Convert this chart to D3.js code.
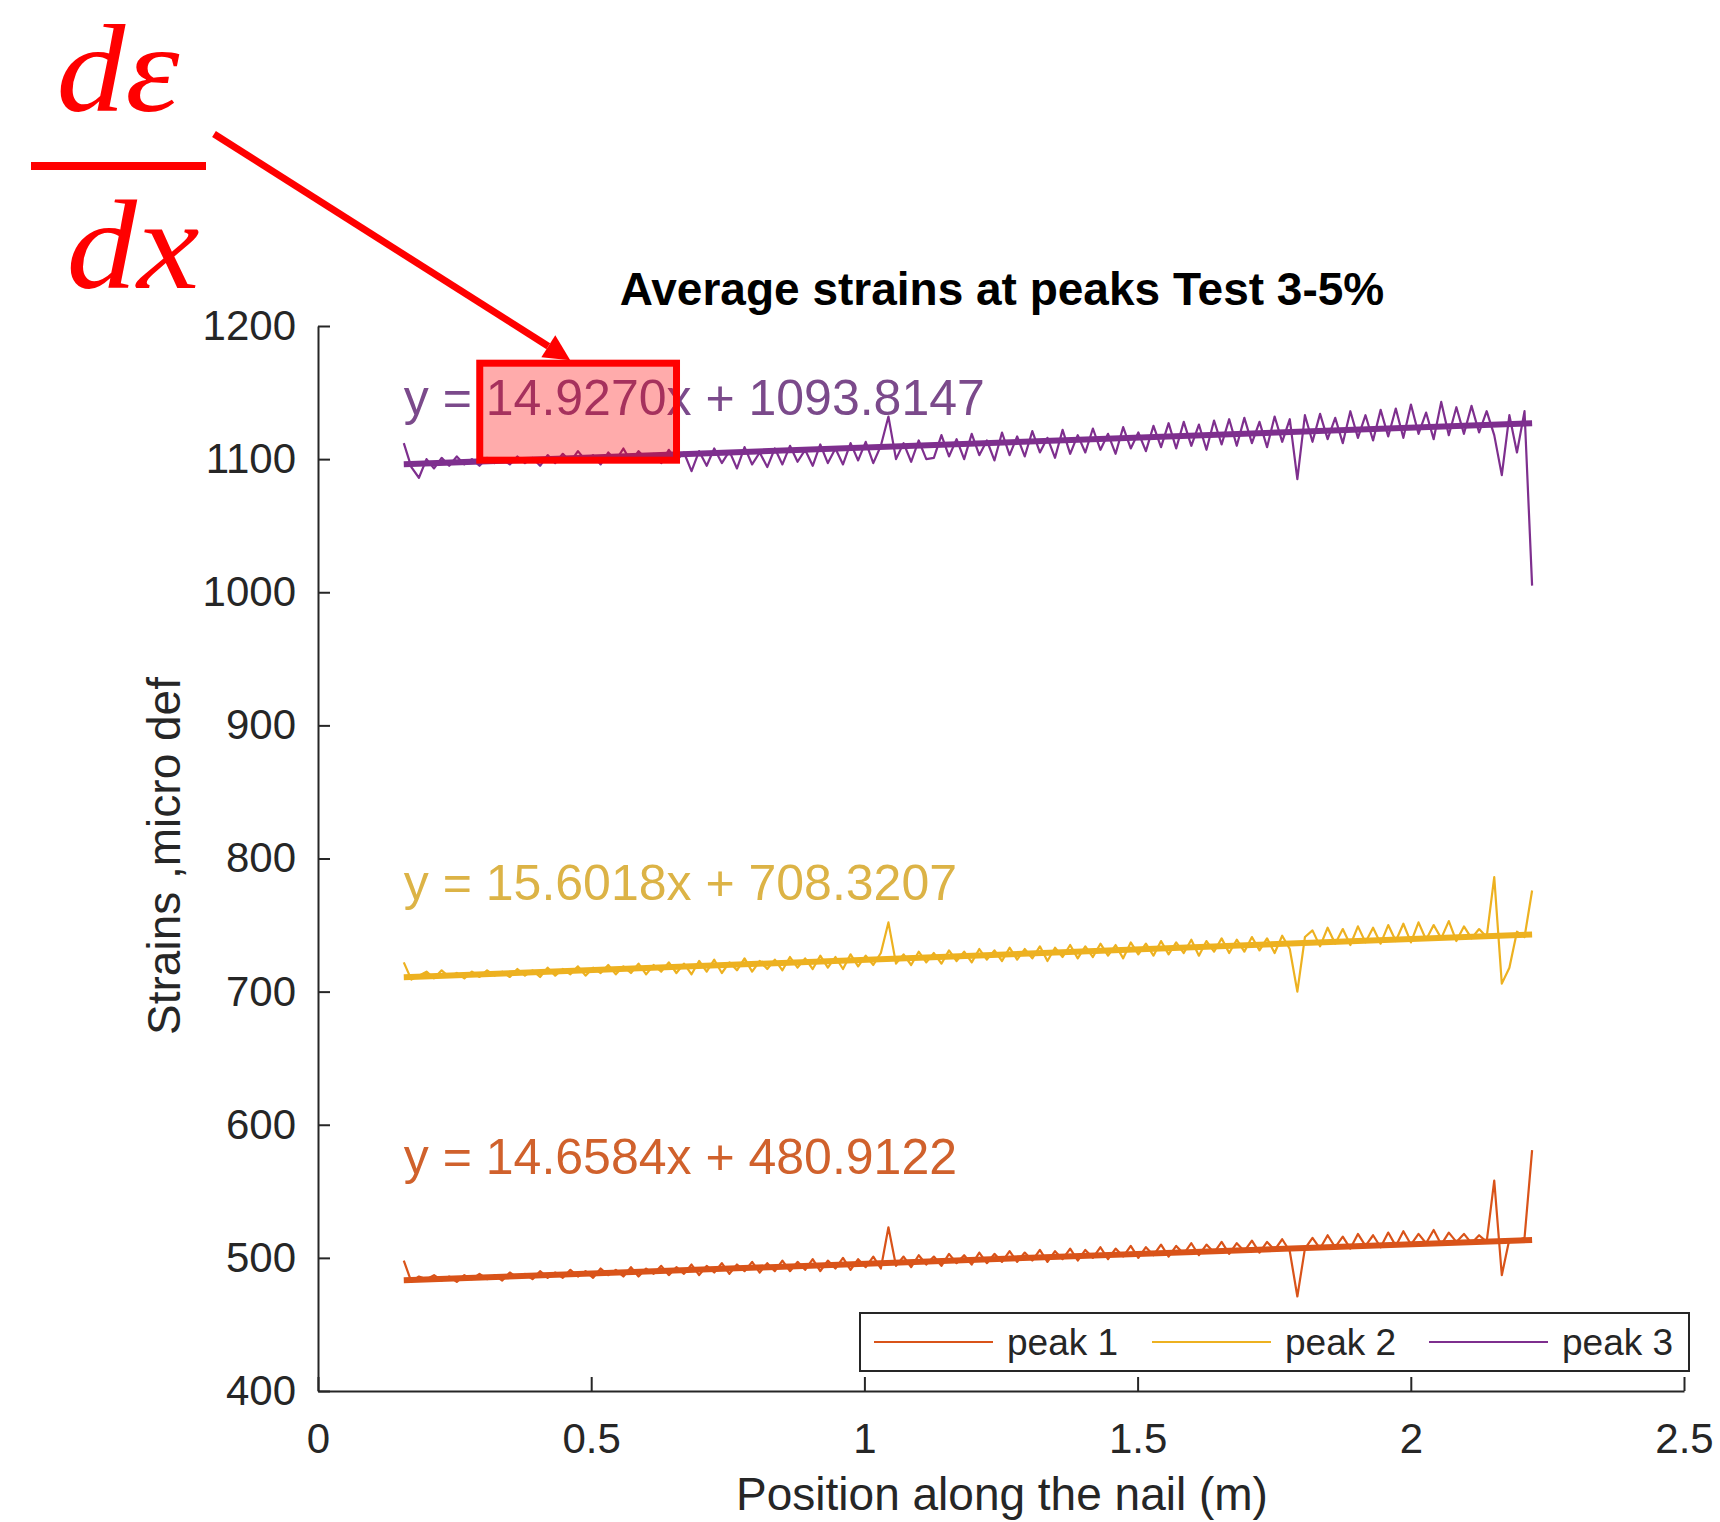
<!DOCTYPE html>
<html>
<head>
<meta charset="utf-8">
<script src="https://d3js.org/d3.v7.min.js"></script>
<style>
  body { margin: 0; background: #fff; }
  svg text { font-family: "Liberation Sans", Arial, Helvetica, sans-serif; }
</style>
</head>
<body>
<div id="chart"></div>
<script>
// position of the first and last gauge along the nail (m)
var xStart = 0.157, xEnd = 2.222;

var seriesNames = ["peak 1", "peak 2", "peak 3"];
var seriesColors = ["#D95319", "#EDB120", "#7E2F8E"];
var labelColors = ["#d0612c", "#dcb346", "#7b4a8b"];

// linear fits printed on the chart
var fitSlopes = [14.6584, 15.6018, 14.9270];
var fitIntercepts = [480.9122, 708.3207, 1093.8147];
var fitLabels = ["y = 14.6584x + 480.9122", "y = 15.6018x + 708.3207", "y = 14.9270x + 1093.8147"];
var fitLabelValues = [563, 769, 1133]; // baseline of each label, micro def

// average strains (micro def)
var peak1 = [
  498, 482, 486, 484, 487, 483, 486, 482, 487, 484,
  488, 484, 487, 483, 489, 485, 488, 484, 490, 485,
  489, 485, 491, 486, 490, 485, 492, 487, 491, 486,
  493, 486, 492, 488, 494, 487, 493, 488, 495, 487,
  494, 489, 496, 488, 495, 490, 497, 489, 496, 490,
  498, 490, 497, 491, 499, 490, 498, 492, 500, 491,
  499, 493, 501, 492, 523, 494, 501, 493, 502, 495,
  501, 494, 503, 496, 502, 495, 504, 496, 503, 497,
  505, 497, 504, 498, 506, 497, 505, 499, 507, 498,
  506, 500, 508, 499, 507, 501, 509, 500, 508, 502,
  510, 501, 509, 503, 511, 502, 510, 504, 512, 503,
  511, 505, 513, 504, 512, 506, 514, 505, 471, 507,
  515, 507, 517, 508, 516, 507, 518, 509, 517, 508,
  519, 509, 520, 510, 518, 511, 521, 510, 519, 512,
  518, 511, 517, 512, 558, 487, 514, 513, 515, 581
];
var peak2 = [
  722, 709, 712, 715, 710, 716, 711, 714, 710, 715,
  711, 716, 712, 715, 711, 717, 712, 716, 711, 718,
  712, 717, 713, 719, 712, 718, 714, 720, 713, 719,
  714, 721, 713, 720, 715, 722, 714, 721, 713, 723,
  715, 724, 714, 722, 716, 725, 715, 723, 717, 724,
  716, 726, 718, 725, 717, 727, 718, 726, 717, 728,
  719, 727, 720, 729, 752, 721, 728, 720, 730, 722,
  729, 721, 731, 723, 730, 722, 732, 724, 731, 723,
  733, 724, 732, 725, 734, 723, 733, 726, 735, 725,
  734, 726, 736, 727, 735, 725, 737, 728, 736, 727,
  738, 728, 737, 729, 739, 727, 738, 730, 740, 729,
  739, 730, 741, 731, 740, 729, 742, 732, 700, 741,
  746, 734, 748, 736, 747, 735, 749, 737, 748, 736,
  750, 738, 751, 737, 752, 739, 750, 740, 753, 738,
  749, 740, 747, 741, 786, 706, 718, 745, 741, 776
];
var peak3 = [
  1112, 1094, 1086, 1100, 1093, 1101, 1095, 1102, 1096, 1100,
  1095, 1101, 1097, 1100, 1096, 1102, 1097, 1101, 1095, 1103,
  1097, 1104, 1098, 1106, 1099, 1103, 1096, 1105, 1099, 1108,
  1098, 1106, 1100, 1104, 1097, 1107, 1099, 1105, 1091, 1106,
  1095, 1108, 1097, 1106, 1093, 1109, 1096, 1105, 1094, 1108,
  1096, 1110, 1098, 1107, 1095, 1111, 1097, 1108, 1096, 1112,
  1099, 1113, 1097, 1110, 1132, 1100, 1112, 1098, 1114, 1100,
  1101, 1118, 1102, 1115, 1100, 1119, 1103, 1114, 1099, 1120,
  1103, 1117, 1102, 1121, 1105, 1116, 1101, 1122, 1104, 1118,
  1105, 1123, 1107, 1119, 1104, 1124, 1108, 1120, 1106, 1125,
  1109, 1127, 1108, 1128, 1110, 1126, 1107, 1129, 1111, 1130,
  1110, 1131, 1112, 1128, 1109, 1132, 1113, 1130, 1085, 1133,
  1113, 1134, 1115, 1131, 1112, 1136, 1116, 1133, 1114, 1137,
  1117, 1138, 1116, 1141, 1119, 1135, 1115, 1143, 1118, 1139,
  1119, 1140, 1120, 1136, 1118, 1088, 1133, 1105, 1136, 1005
];
var allSeries = [peak1, peak2, peak3];

var xTicks = [0, 0.5, 1, 1.5, 2, 2.5];
var yTicks = [400, 500, 600, 700, 800, 900, 1000, 1100, 1200];

var chartTitle = "Average strains at peaks Test 3-5%";
var xTitle = "Position along the nail (m)";
var yTitle = "Strains ,micro def";

// layout
var width = 1720, height = 1522;
var margin = { top: 326, right: 36, bottom: 131, left: 318 };
var plotW = width - margin.left - margin.right,
    plotH = height - margin.top - margin.bottom;

var svg = d3.select("#chart")
  .append("svg")
  .attr("width", width)
  .attr("height", height);

var g = svg.append("g")
  .attr("transform", "translate(" + margin.left + "," + margin.top + ")");

var x = d3.scaleLinear().domain([0, 2.5]).range([0, plotW]);
var y = d3.scaleLinear().domain([400, 1200]).range([plotH, 0]);

// axes (MATLAB style, ticks pointing in, box off)
var yAxis = g.append("g")
  .call(d3.axisLeft(y).tickValues(yTicks).tickFormat(d3.format("d"))
    .tickSizeInner(-12).tickSizeOuter(0).tickPadding(22));
var xAxis = g.append("g")
  .attr("transform", "translate(0," + plotH + ")")
  .call(d3.axisBottom(x).tickValues(xTicks).tickFormat(function (d) { return String(d); })
    .tickSizeInner(-14).tickSizeOuter(0).tickPadding(32));

[xAxis, yAxis].forEach(function (a) {
  a.select(".domain").attr("stroke", "#262626").attr("stroke-width", 2);
  a.selectAll(".tick line").attr("stroke", "#262626").attr("stroke-width", 2);
  a.selectAll(".tick text").attr("fill", "#262626").style("font-size", "42px");
});

// raw lines and fits
var line = d3.line()
  .x(function (d) { return x(d[0]); })
  .y(function (d) { return y(d[1]); });

allSeries.forEach(function (vals, k) {
  var n = vals.length;
  var pts = vals.map(function (v, i) {
    return [xStart + i * (xEnd - xStart) / (n - 1), v];
  });
  g.append("path")
    .datum(pts)
    .attr("fill", "none")
    .attr("stroke", seriesColors[k])
    .attr("stroke-width", 2.2)
    .attr("stroke-linejoin", "round")
    .attr("d", line);

  var fitPts = [xStart, xEnd].map(function (xv) {
    return [xv, fitIntercepts[k] + fitSlopes[k] * xv];
  });
  g.append("path")
    .datum(fitPts)
    .attr("fill", "none")
    .attr("stroke", seriesColors[k])
    .attr("stroke-width", 6)
    .attr("d", line);
});

// fit equations
var eqTexts = fitLabels.map(function (lbl, k) {
  return g.append("text")
    .attr("x", x(xStart))
    .attr("y", y(fitLabelValues[k]))
    .attr("fill", labelColors[k])
    .style("font-size", "50px")
    .text(lbl);
});

// title and axis labels
svg.append("text")
  .attr("x", 1002)
  .attr("y", 305)
  .attr("text-anchor", "middle")
  .attr("fill", "#000")
  .style("font-size", "46px")
  .style("font-weight", "bold")
  .text(chartTitle);

svg.append("text")
  .attr("x", 1002)
  .attr("y", 1510)
  .attr("text-anchor", "middle")
  .attr("fill", "#262626")
  .style("font-size", "46px")
  .text(xTitle);

svg.append("text")
  .attr("transform", "translate(180,856) rotate(-90)")
  .attr("text-anchor", "middle")
  .attr("fill", "#262626")
  .style("font-size", "46px")
  .text(yTitle);

// legend
var legend = svg.append("g").attr("transform", "translate(860,1313)");
legend.append("rect")
  .attr("width", 829).attr("height", 58)
  .attr("fill", "#fff")
  .attr("stroke", "#262626").attr("stroke-width", 2);
var legendX = [14, 292, 569];
seriesNames.forEach(function (name, k) {
  legend.append("line")
    .attr("x1", legendX[k]).attr("x2", legendX[k] + 119)
    .attr("y1", 29).attr("y2", 29)
    .attr("stroke", seriesColors[k]).attr("stroke-width", 2);
  legend.append("text")
    .attr("x", legendX[k] + 133)
    .attr("y", 42)
    .attr("fill", "#262626")
    .style("font-size", "37px")
    .text(name);
});

// red annotation: slope d(eps)/dx
var red = "#ff0000";
var ann = svg.append("g");
ann.append("text")
  .attr("x", 118).attr("y", 111)
  .attr("text-anchor", "middle")
  .attr("fill", red)
  .style("font-family", "'Liberation Serif', 'DejaVu Serif', serif")
  .style("font-style", "italic")
  .style("font-size", "124px")
  .attr("textLength", 123).attr("lengthAdjust", "spacingAndGlyphs")
  .text("d\u03B5");
ann.append("line")
  .attr("x1", 31).attr("x2", 206)
  .attr("y1", 166).attr("y2", 166)
  .attr("stroke", red).attr("stroke-width", 8);
ann.append("text")
  .attr("x", 133).attr("y", 288)
  .attr("text-anchor", "middle")
  .attr("fill", red)
  .style("font-family", "'Liberation Serif', 'DejaVu Serif', serif")
  .style("font-style", "italic")
  .style("font-size", "128px")
  .attr("textLength", 133).attr("lengthAdjust", "spacingAndGlyphs")
  .text("dx");

// box around the purple slope value
var eqNode = eqTexts[2].node();
var s0 = eqNode.getStartPositionOfChar(4).x,
    s1 = eqNode.getEndPositionOfChar(10).x;
var base = y(fitLabelValues[2]);
var boxL = margin.left + s0 - 6, boxR = margin.left + s1 + 10;
var boxT = margin.top + base - 52, boxB = margin.top + base + 45;
ann.append("rect")
  .attr("x", boxL).attr("y", boxT)
  .attr("width", boxR - boxL).attr("height", boxB - boxT)
  .attr("fill", red).attr("fill-opacity", 0.33)
  .attr("stroke", red).attr("stroke-width", 7);

// arrow from the fraction to the box
var ax0 = 214, ay0 = 134;
var tipX = boxL + 0.46 * (boxR - boxL), tipY = boxT - 3;
var ang = Math.atan2(tipY - ay0, tipX - ax0);
var headLen = 26, headW = 13;
var bx = tipX - headLen * Math.cos(ang), by = tipY - headLen * Math.sin(ang);
ann.append("line")
  .attr("x1", ax0).attr("y1", ay0)
  .attr("x2", bx).attr("y2", by)
  .attr("stroke", red).attr("stroke-width", 7);
ann.append("path")
  .attr("fill", red)
  .attr("d", "M" + tipX + "," + tipY +
    "L" + (bx + headW * Math.sin(ang)) + "," + (by - headW * Math.cos(ang)) +
    "L" + (bx - headW * Math.sin(ang)) + "," + (by + headW * Math.cos(ang)) + "Z");
</script>
</body>
</html>
